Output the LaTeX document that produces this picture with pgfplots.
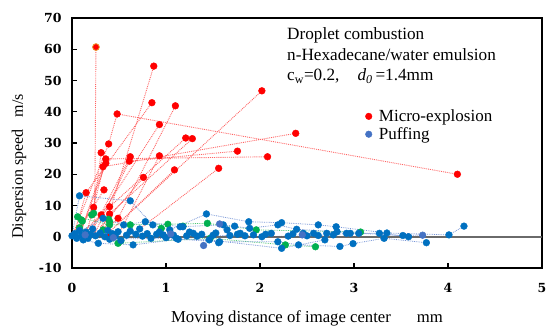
\documentclass[border=0pt]{standalone}
\usepackage{fontspec}
\setmainfont{Liberation Serif}
\newfontfamily\tickfont{DejaVu Serif}
\usepackage{pgfplots}
\pgfplotsset{compat=1.18}
\definecolor{mred}{RGB}{255,0,0}
\definecolor{mblue}{RGB}{0,112,192}
\definecolor{mblue2}{RGB}{68,114,196}
\definecolor{mgreen}{RGB}{0,176,80}
\definecolor{zline}{RGB}{90,90,90}
\definecolor{lred}{RGB}{255,100,100}
\definecolor{lblue}{RGB}{120,150,215}
\definecolor{lgreen}{RGB}{80,200,120}
\definecolor{morange}{RGB}{235,150,40}
\begin{document}
\begin{tikzpicture}
\path[use as bounding box] (-72bp,-59bp) rectangle (480bp,268bp);
\begin{axis}[
  at={(0,0)}, anchor=south west,
  scale only axis, width=470bp, height=250bp,
  xmin=0, xmax=5, ymin=-10, ymax=70,
  xtick={0,1,2,3,4,5}, ytick={-10,0,10,20,30,40,50,60,70},
  tick align=inside, xtick pos=bottom, ytick pos=left,
  major tick length=5bp,
  axis line style={line width=1.3bp},
  every tick/.style={black, line width=1.1bp},
  /pgf/number format/assume math mode=true,
  ticklabel style={font=\tickfont\bfseries\fontsize{12.5bp}{14bp}\selectfont},
  xticklabel style={yshift=-12bp},
  yticklabel style={xshift=-7bp},
  xlabel={Moving distance of image center\hspace{26bp}mm},
  xlabel style={font=\fontsize{16.7bp}{19bp}\selectfont, at={(axis description cs:0.5,-0.216)}, anchor=base},
  ylabel={Dispersion speed\hspace{12bp}m/s},
  ylabel style={font=\fontsize{16bp}{19bp}\selectfont, at={(axis description cs:-0.1128,0.406)}, anchor=center},
  clip=false,
  unbounded coords=jump,
  legend style={at={(axis description cs:0.622,0.638)}, anchor=north west, draw=none, fill=none,
    font=\fontsize{17bp}{20bp}\selectfont, inner sep=0pt, row sep=2.5bp, nodes={inner sep=1bp}},
  legend cell align=left,
  legend image code/.code={\path (0bp,0bp) (13bp,0bp); \draw[mark repeat=2,mark phase=2,#1] plot coordinates {(0bp,0bp) (4bp,0bp) (8bp,0bp)};},
]
\addlegendimage{only marks, mark=*, mark size=3.3bp, color=mred}
\addlegendentry{Micro-explosion}
\addlegendimage{only marks, mark=*, mark size=3.3bp, color=mblue2}
\addlegendentry{Puffing}

% red trajectories
\addplot[lred, densely dotted, line width=0.9bp, forget plot] coordinates {
 (0.24,0) (0.255,60.7) (0,inf)
 (0.34,2.0) (0.87,54.6) (0,inf)
 (0.15,14.1) (0.85,42.9) (0,inf)
 (0.49,5.9) (1.10,41.9) (0,inf)
 (0.36,0.5) (2.02,46.7) (0,inf)
 (0.39,29.7) (0.48,39.3) (4.10,20.0) (0,inf)
 (0.33,22.4) (2.38,33.1) (0,inf)
 (0.31,7.0) (0.93,35.9) (0,inf)
 (0.40,9.6) (1.21,31.6) (0,inf)
 (0.40,7.3) (1.28,31.4) (0,inf)
 (0.23,9.4) (0.31,26.9) (0,inf)
 (0.36,24.9) (2.08,25.6) (0,inf)
 (0.61,24.2) (1.76,27.4) (0,inf)
 (0.10,2.0) (0.36,23.5) (0,inf)
 (0.20,1.0) (0.62,25.6) (0,inf)
 (0.50,1.0) (0.93,25.9) (0,inf)
 (0.30,3.0) (0.76,19.0) (0,inf)
 (0.70,2.0) (1.56,21.9) (0,inf)
 (0.45,3.0) (1.09,21.4) (0,inf)
 (0.05,1.0) (0.34,15.0) (0,inf)
 (0.02,0.5) (0.15,14.1) (0,inf)
 (0.10,1.0) (0.40,9.6) (0,inf)
 (0.00,0.0) (0.39,29.7) (0,inf)
 (0.08,0.5) (0.33,22.4) (0,inf)
 (0.15,0.5) (0.36,24.9) (0,inf)
 (0.25,1.5) (0.61,24.2) (0,inf)
 (0.00,0.0) (0.23,9.4) (0,inf)
 (0.12,0.0) (0.31,7.0) (0,inf)
 (0.30,0.0) (0.49,5.9) (0,inf)
 (0.28,1.0) (0.40,7.3)
};
\addplot[only marks, mark=*, mark size=3.4bp, color=mred, forget plot] coordinates {
 (0.87,54.6) (0.85,42.9) (1.10,41.9) (2.02,46.7) (0.48,39.3) (0.93,35.9)
 (1.21,31.6) (1.28,31.4) (2.38,33.1) (0.39,29.7) (1.76,27.4) (0.31,26.9)
 (0.36,24.9) (0.33,22.4) (0.36,23.5) (0.62,25.6) (0.61,24.2) (0.93,25.9)
 (2.08,25.6) (1.56,21.9) (1.09,21.4) (0.76,19.0) (0.34,15.0) (0.15,14.1)
 (0.40,9.6) (0.40,7.3) (0.23,9.4) (0.31,7.0) (0.49,5.9) (4.10,20.0)
 (0.40,0.0) (0.02,0.5)
};
\addplot[only marks, mark=*, mark size=3.4bp, mark options={fill=mred, draw=morange, line width=0.8bp}, forget plot] coordinates {(0.255,60.7)};

% green series
\addplot[lgreen, densely dotted, line width=0.8bp, forget plot] coordinates {
 (0.06,6.4) (0.40,3.8) (1.02,4.0) (1.44,4.3) (1.96,2.2) (3.07,1.5) (0,inf)
 (0.08,2.9) (0.49,-2.1) (1.47,-0.5) (2.27,-2.6) (2.59,-3.2)
};
\addplot[only marks, mark=*, mark size=3.4bp, color=mgreen, forget plot] coordinates {
 (0.06,6.4) (0.21,7.0) (0.23,7.5) (0.10,5.4) (0.11,5.0) (0.39,5.6) (0.40,4.8) (0.40,3.8)
 (0.08,2.9) (0.33,2.2) (0.62,3.8) (0.49,-2.1) (0.52,-1.3) (0.95,2.7) (1.02,4.0)
 (1.18,3.4) (1.44,4.3) (1.47,-0.5) (1.96,2.2) (2.27,-2.6) (2.59,-3.2) (3.07,1.5)
};

% blue series
\addplot[lblue, densely dotted, line width=0.8bp, forget plot] coordinates {
 (0.00,0.3) (0.08,13.1) (0.62,11.5) (0.86,3.8) (1.04,2.2) (1.43,7.3) (1.88,4.8) (2.23,4.5) (2.62,3.8) (2.81,3.2) (3.35,1.2) (4.01,0.6) (4.17,3.4) (0,inf)
 (0.00,0.3) (0.33,5.9) (0.55,3.8) (0.78,4.8) (1.15,3.2) (1.61,3.8) (1.89,2.7) (2.19,3.8) (2.39,2.4) (2.82,1.6) (3.05,1.1) (3.52,0.4) (3.73,0.5) (0,inf)
 (0.05,-0.5) (0.28,-2.1) (0.65,-2.6) (1.13,-0.8) (1.57,-1.6) (2.19,-1.6) (2.41,-2.6) (2.85,-3.1) (2.99,-2.2) (3.32,-0.5) (3.77,-1.9) (0,inf)
 (0.03,1.0) (0.25,0.3) (0.46,0.2) (0.75,0.2) (1.00,-0.3) (1.33,0.2) (1.68,0.4) (2.02,0.0) (2.30,0.2) (2.62,0.4) (2.96,1.1) (3.27,1.1) (3.58,0.0) (0,inf)
 (0.10,0.5) (0.40,-0.8) (0.84,-0.5) (1.46,-1.0) (2.23,-3.7) (2.69,-1.0)
};
\addplot[only marks, mark=*, mark size=3.4bp, color=mblue, forget plot] coordinates {
 (0.00,0.3) (0.03,1.0) (0.05,-0.5) (0.08,13.1) (0.08,2.0) (0.10,0.5) (0.12,-1.0) (0.15,1.5)
 (0.17,-0.5) (0.20,0.8) (0.22,2.5) (0.25,0.3) (0.28,-2.1) (0.30,1.2) (0.33,5.9) (0.35,0.0)
 (0.38,2.0) (0.40,-0.8) (0.43,1.0) (0.46,0.2) (0.49,1.6) (0.52,-1.2) (0.55,3.8) (0.58,0.5)
 (0.62,11.5) (0.62,1.8) (0.65,-2.6) (0.68,0.8) (0.72,2.5) (0.75,0.2) (0.78,4.8) (0.80,1.0)
 (0.84,-0.5) (0.86,3.8) (0.90,0.8) (0.93,1.5) (0.97,0.6) (1.00,-0.3) (1.04,2.2) (1.08,0.5)
 (1.11,-0.5) (1.13,-0.8) (1.15,3.2) (1.18,3.2) (1.22,0.3) (1.25,1.5) (1.29,1.1) (1.33,0.2)
 (1.38,0.8) (1.43,7.3) (1.46,-1.0) (1.50,0.5) (1.53,1.2) (1.57,-1.6) (1.56,-1.9) (1.61,3.8)
 (1.65,2.2) (1.68,0.4) (1.73,3.4) (1.76,0.8) (1.79,1.1) (1.84,0.3) (1.88,4.8) (1.89,2.7)
 (1.93,0.6) (2.02,0.0) (2.06,0.8) (2.12,1.1) (2.19,3.8) (2.23,4.5) (2.19,-1.6) (2.23,-3.7)
 (2.30,0.2) (2.35,0.9) (2.39,2.4) (2.41,-2.6) (2.46,1.1) (2.50,0.3) (2.57,1.1) (2.62,3.8)
 (2.62,0.4) (2.69,-1.0) (2.71,1.1) (2.78,0.6) (2.81,3.2) (2.82,1.6) (2.85,-3.1) (2.92,1.1)
 (2.96,1.1) (2.99,-2.2) (3.05,1.1) (3.27,1.1) (3.32,-0.5) (3.35,1.2) (3.52,0.4) (3.58,0.0)
 (3.77,-1.9) (4.01,0.6) (4.17,3.4)
};
\addplot[only marks, mark=*, mark size=3.4bp, color=mblue2, forget plot] coordinates {
 (0.14,0.6) (0.44,-0.3) (1.05,0.9) (1.57,4.1) (2.45,0.6) (3.73,0.5) (1.40,-2.8)
};

% zero line
\addplot[zline, line width=2bp, opacity=0.9, forget plot] coordinates {(0,0) (5,0)};

\node[anchor=base west, font=\fontsize{17.2bp}{20bp}\selectfont, inner sep=0pt] at (rel axis cs:0.4574,0.9148) {Droplet combustion};
\node[anchor=base west, font=\fontsize{17.2bp}{20bp}\selectfont, inner sep=0pt] at (rel axis cs:0.4574,0.8292) {n-Hexadecane/water emulsion};
\node[anchor=base west, font=\fontsize{17.2bp}{20bp}\selectfont, inner sep=0pt] at (rel axis cs:0.4574,0.7492) {c\textsubscript{w}=0.2,\hspace{18bp}\textit{d}\textsubscript{\textit{0}}\,=1.4mm};
\end{axis}
\end{tikzpicture}
\end{document}
